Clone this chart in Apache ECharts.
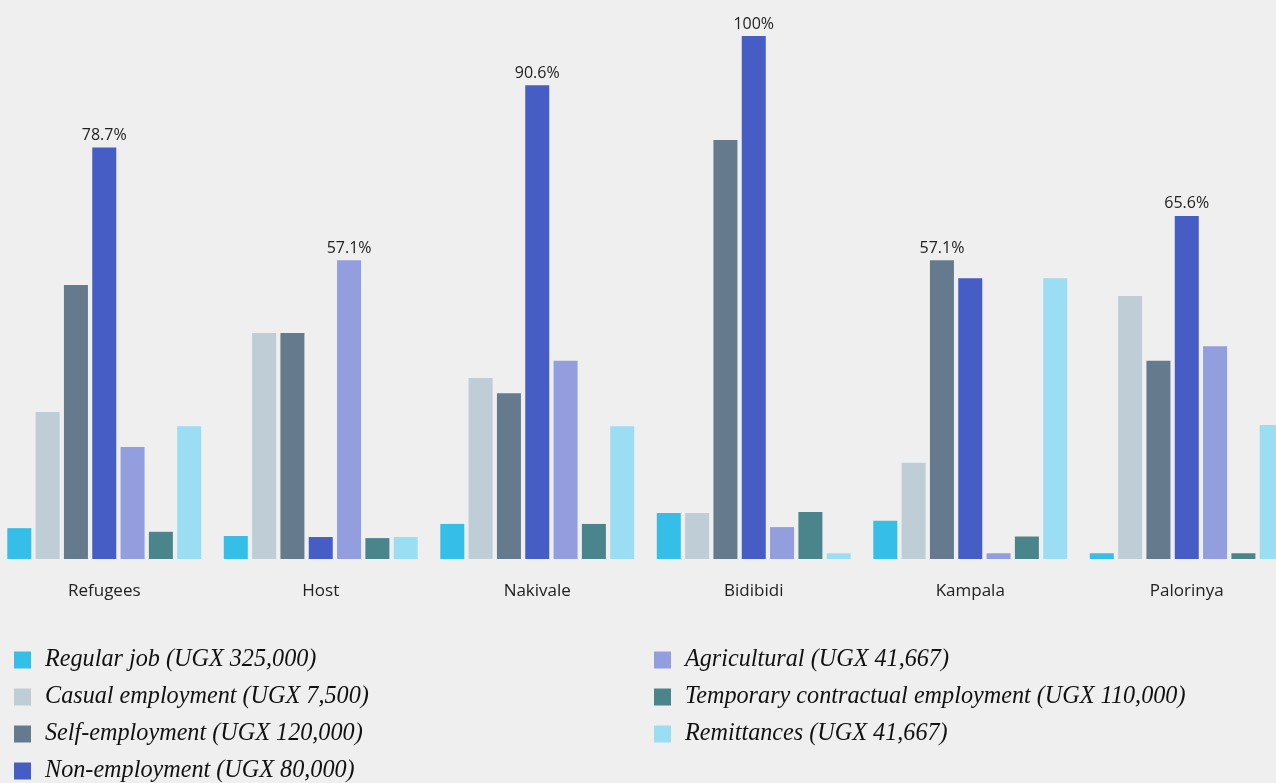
<!DOCTYPE html>
<html>
<head>
<meta charset="utf-8">
<script src="https://cdn.jsdelivr.net/npm/echarts@6/dist/echarts.min.js"></script>
<style>
  html, body { margin: 0; padding: 0; background: #efefef; overflow: hidden; width: 1276px; height: 783px; }
  #chart { position: absolute; left: -4px; top: 0; width: 1299px; height: 783px; }
</style>
</head>
<body>
<div id="chart"></div>
<script>
// Share of households by income source, per group/settlement (%)
const categories = ['Refugees', 'Host', 'Nakivale', 'Bidibidi', 'Kampala', 'Palorinya'];

const seriesNames = [
  'Regular job (UGX 325,000)',
  'Casual employment (UGX 7,500)',
  'Self-employment (UGX 120,000)',
  'Non-employment (UGX 80,000)',
  'Agricultural (UGX 41,667)',
  'Temporary contractual employment (UGX 110,000)',
  'Remittances (UGX 41,667)'
];

const regularJob   = [5.9, 4.4, 6.7, 8.8, 7.3, 1.1];
const casualEmp    = [28.1, 43.2, 34.6, 8.8, 18.4, 50.3];
const selfEmp      = [52.4, 43.2, 31.7, 80.1, 57.1, 37.9];
const nonEmp       = [78.7, 4.2, 90.6, 100, 53.7, 65.6];
const agricultural = [21.4, 57.1, 37.9, 6.1, 1.1, 40.7];
const temporary    = [5.2, 4.0, 6.7, 9.0, 4.3, 1.1];
const remittances  = [25.4, 4.2, 25.4, 1.1, 53.7, 25.6];

const colors = ['#35bfe8', '#bfcdd6', '#667a8e', '#475dc6', '#929edd', '#4b858c', '#9bdef4'];

const seriesValues = [regularJob, casualEmp, selfEmp, nonEmp, agricultural, temporary, remittances];

// highest value in each category gets a value label
const catMax = categories.map((c, i) => Math.max(...seriesValues.map(s => s[i])));

const series = seriesValues.map((vals, si) => ({
  name: seriesNames[si],
  type: 'bar',
  barWidth: 24,
  barGap: '18%',
  itemStyle: { color: colors[si] },
  data: vals.map((v, ci) => ({
    value: v,
    label: {
      show: v === catMax[ci],
      position: 'top',
      distance: 4,
      formatter: p => p.value + '%',
      color: '#222',
      fontSize: 16,
      fontFamily: 'Open Sans'
    }
  }))
}));

const legendText = {
  fontFamily: 'Liberation Serif',
  fontStyle: 'italic',
  fontSize: 24.2,
  color: '#111',
  lineHeight: 22,
  padding: [12, 0, 0, 9]
};

function legendBlock(names, left, top) {
  return {
    data: names,
    orient: 'vertical',
    left: left,
    top: top,
    padding: 0,
    icon: 'rect',
    itemWidth: 17,
    itemHeight: 17,
    itemGap: 3,
    textStyle: legendText,
    selectedMode: false
  };
}

const chart = echarts.init(document.getElementById('chart'), null, { renderer: 'canvas' });
chart.setOption({
  backgroundColor: '#efefef',
  animation: false,
  color: colors,
  grid: { left: 0, right: 0, top: 36, height: 523, containLabel: false },
  xAxis: {
    type: 'category',
    data: categories,
    axisLine: { show: false },
    axisTick: { show: false },
    axisLabel: { color: '#222', fontSize: 17, fontFamily: 'Open Sans', margin: 24 }
  },
  yAxis: {
    type: 'value',
    min: 0,
    max: 100,
    show: false
  },
  legend: [
    legendBlock(seriesNames.slice(0, 3), 18, 643),
    legendBlock(seriesNames.slice(3, 4), 18, 643 + 3 * 37),
    legendBlock(seriesNames.slice(4), 658, 643)
  ],
  series: series
});
</script>
</body>
</html>
